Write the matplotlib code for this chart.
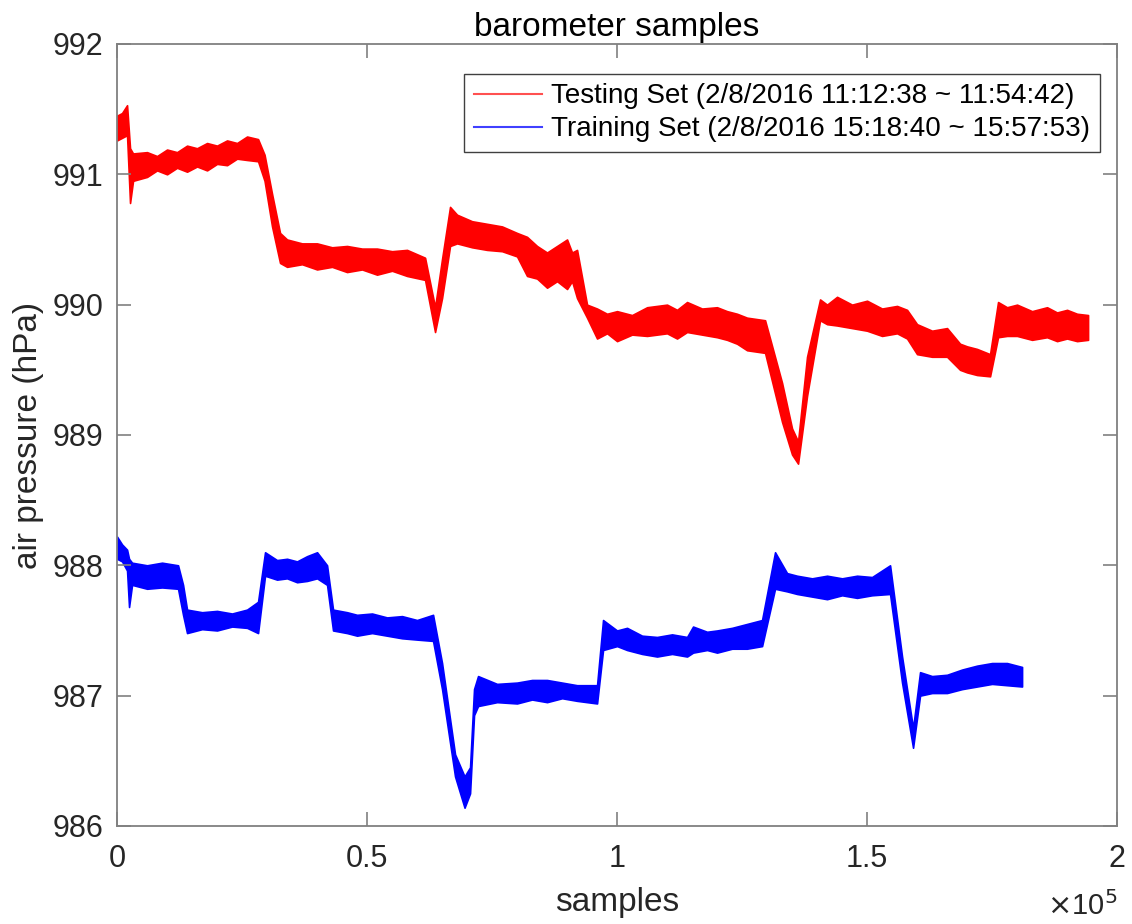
import matplotlib.pyplot as plt
from matplotlib.lines import Line2D

# envelope of the noisy barometer traces
# x = sample index, lo / hi = lower and upper edge of the band (hPa)

test_x = [0, 1000, 2000, 2600, 3200, 6000, 8000, 10000, 12000, 14000, 16000, 18000, 20000,
          22000, 24000, 26000, 28200, 29500, 31000, 32600, 34000, 37000, 40000, 43000,
          46000, 49000, 52000, 55000, 58000, 61600, 63600, 65000, 66600, 68000, 71000,
          74000, 77000, 80000, 82000, 84000, 86000, 88000, 90000, 91000, 92000, 94000,
          96000, 98000, 100000, 103000, 106000, 110000, 112000, 114000, 117000, 120000,
          122000, 124000, 126000, 129600, 133000, 135000, 136200, 138000, 140600, 142000,
          144000, 147000, 150000, 153000, 156000, 158000, 160000, 163000, 166000, 168600,
          170000, 172000, 174600, 176200, 178000, 180000, 183000, 186000, 188000, 190000,
          192000, 194200]
test_lo = [991.26, 991.28, 991.30, 990.78, 990.95, 990.98, 991.03, 991.00, 991.05, 991.02,
           991.06, 991.03, 991.08, 991.07, 991.12, 991.11, 991.10, 990.95, 990.60, 990.32,
           990.29, 990.31, 990.27, 990.29, 990.25, 990.27, 990.23, 990.26, 990.22, 990.19,
           989.79, 990.05, 990.45, 990.47, 990.44, 990.42, 990.41, 990.37, 990.22, 990.20,
           990.13, 990.18, 990.12, 990.18, 990.05, 989.90, 989.74, 989.78, 989.72, 989.77,
           989.76, 989.78, 989.74, 989.79, 989.77, 989.75, 989.73, 989.70, 989.65, 989.63,
           989.10, 988.85, 988.78, 989.30, 989.88, 989.85, 989.84, 989.82, 989.80, 989.76,
           989.78, 989.74, 989.62, 989.60, 989.60, 989.50, 989.48, 989.46, 989.45, 989.75,
           989.76, 989.76, 989.73, 989.75, 989.72, 989.74, 989.72, 989.73]
test_hi = [991.45, 991.47, 991.53, 991.20, 991.16, 991.17, 991.14, 991.19, 991.17, 991.22,
           991.20, 991.24, 991.22, 991.26, 991.24, 991.29, 991.27, 991.15, 990.85, 990.55,
           990.50, 990.47, 990.47, 990.44, 990.45, 990.43, 990.43, 990.41, 990.42, 990.36,
           989.98, 990.35, 990.75, 990.69, 990.64, 990.62, 990.60, 990.55, 990.52, 990.45,
           990.40, 990.45, 990.50, 990.40, 990.42, 990.00, 989.97, 989.93, 989.95, 989.92,
           989.98, 990.00, 989.96, 990.02, 989.97, 989.98, 989.95, 989.93, 989.90, 989.88,
           989.40, 989.05, 988.95, 989.60, 990.04, 990.00, 990.06, 990.00, 990.03, 989.97,
           989.99, 989.96, 989.85, 989.80, 989.82, 989.70, 989.68, 989.66, 989.62, 990.02,
           989.98, 990.00, 989.95, 989.98, 989.94, 989.96, 989.93, 989.92]

train_x = [0, 1000, 2000, 2400, 3000, 6000, 9000, 12200, 13200, 14000, 17000, 20000, 23000,
           26000, 28200, 29600, 32000, 34000, 36000, 38000, 40000, 42000, 43200, 46000,
           48000, 51000, 54000, 57000, 60000, 63200, 65000, 67600, 69500, 70600, 71400,
           72200, 76000, 80000, 83000, 86000, 89000, 92000, 96000, 97200, 100000, 102000,
           105000, 108000, 111000, 114000, 115200, 118000, 120000, 123000, 126000, 129000,
           131600, 134000, 136000, 139000, 142000, 145000, 148000, 151000, 154600, 157000,
           159200, 160600, 163000, 166000, 169000, 172000, 175000, 178000, 181000]
train_lo = [988.05, 988.03, 987.96, 987.68, 987.85, 987.82, 987.83, 987.82, 987.62, 987.48,
            987.51, 987.50, 987.53, 987.52, 987.48, 987.92, 987.89, 987.90, 987.87, 987.88,
            987.90, 987.85, 987.50, 987.48, 987.46, 987.48, 987.46, 987.44, 987.43, 987.42,
            987.05, 986.38, 986.14, 986.25, 986.85, 986.92, 986.95, 986.94, 986.97, 986.95,
            986.98, 986.96, 986.94, 987.35, 987.38, 987.35, 987.32, 987.30, 987.32, 987.30,
            987.33, 987.35, 987.33, 987.36, 987.36, 987.38, 987.82, 987.80, 987.78, 987.76,
            987.74, 987.77, 987.75, 987.77, 987.78, 987.10, 986.60, 987.00, 987.02, 987.02,
            987.05, 987.07, 987.09, 987.08, 987.07]
train_hi = [988.22, 988.16, 988.12, 988.05, 988.02, 988.00, 988.02, 988.00, 987.85, 987.66,
            987.64, 987.65, 987.63, 987.66, 987.72, 988.10, 988.04, 988.05, 988.03, 988.07,
            988.10, 988.00, 987.66, 987.64, 987.62, 987.63, 987.60, 987.61, 987.58, 987.62,
            987.25, 986.55, 986.38, 986.45, 987.05, 987.15, 987.09, 987.10, 987.12, 987.12,
            987.10, 987.08, 987.08, 987.58, 987.50, 987.52, 987.46, 987.45, 987.47, 987.45,
            987.53, 987.49, 987.50, 987.52, 987.55, 987.58, 988.10, 987.94, 987.92, 987.90,
            987.92, 987.90, 987.92, 987.91, 988.00, 987.30, 986.75, 987.18, 987.15, 987.16,
            987.20, 987.23, 987.25, 987.25, 987.22]

x_ticks = [0, 50000, 100000, 150000, 200000]
x_tick_labels = ['0', '0.5', '1', '1.5', '2']
y_ticks = [986, 987, 988, 989, 990, 991, 992]

test_label = 'Testing Set (2/8/2016 11:12:38 ~ 11:54:42)'
train_label = 'Training Set (2/8/2016 15:18:40 ~ 15:57:53)'

plt.rcParams['font.family'] = ['Liberation Sans', 'DejaVu Sans']

fig = plt.figure(figsize=(11.32, 9.24), dpi=100)
ax = fig.add_axes([0.1034, 0.1061, 0.8834, 0.8463])

ax.fill_between(test_x, test_lo, test_hi, color='#ff0000', lw=1.2, edgecolor='#ff0000')
ax.fill_between(train_x, train_lo, train_hi, color='#0000ff', lw=1.2, edgecolor='#0000ff')

ax.set_xlim(0, 200000)
ax.set_ylim(986, 992)
ax.set_xticks(x_ticks)
ax.set_xticklabels(x_tick_labels)
ax.set_yticks(y_ticks)

grey = '#808080'
txt = '#262626'
for sp in ax.spines.values():
    sp.set_color(grey)
    sp.set_linewidth(1.3)
ax.tick_params(direction='in', length=10, width=1.2, color=grey, labelcolor=txt,
               labelsize=22, top=True, right=True)
ax.tick_params(axis='x', pad=13)
ax.tick_params(axis='y', pad=10)

ax.set_title('barometer samples', fontsize=24, color='black', pad=6)
ax.set_xlabel('samples', fontsize=24, color=txt, labelpad=9)
ax.set_ylabel('air pressure (hPa)', fontsize=24, color=txt, labelpad=6)
ax.text(1.0, -0.083, r'$\times$10$^5$', transform=ax.transAxes, ha='right', va='top',
        fontsize=21, color=txt)

handles = [Line2D([], [], color='#ff5050', lw=1.5),
           Line2D([], [], color='#4040ff', lw=1.5)]
leg = ax.legend(handles, [test_label, train_label], loc='upper right',
                bbox_to_anchor=(0.983, 0.962), borderaxespad=0, fontsize=20,
                fancybox=False, framealpha=1, edgecolor='#404040',
                handlelength=2.45, handletextpad=0.35,
                labelspacing=0.25, borderpad=0.35)
leg.get_frame().set_linewidth(1.0)

fig.savefig('out.png', dpi=100)
